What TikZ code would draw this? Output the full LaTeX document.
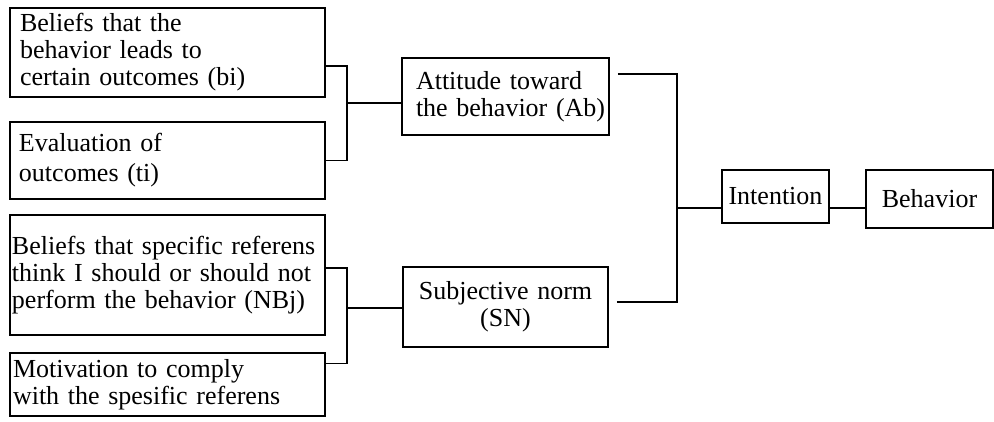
\documentclass[tikz,border=0pt]{standalone}
\usepackage{fontspec}
\setmainfont{Liberation Serif}
\begin{document}
\begin{tikzpicture}[x=1pt, y=-1pt,
    box/.style={draw, line width=1.6pt, inner xsep=6pt, inner ysep=0pt,
      font=\fontsize{26}{27}\selectfont},
    link/.style={line width=1.6pt}]
    \useasboundingbox (0,0) rectangle (994,421);
    % 行为信念与结果评价
    \node[box, minimum width=315pt, minimum height=89pt, inner xsep=10pt, text width=295pt, align=left] (bi) at (167.5,52.5)
      {Beliefs that the\\behavior leads to\\certain outcomes (bi)};
    \node[box, minimum width=315pt, minimum height=77pt, inner xsep=9pt, text width=297pt, align=left] (ti) at (167.5,160.5)
      {Evaluation of\\[3pt]outcomes (ti)};
    % 规范信念与顺从动机
    \node[box, minimum width=315pt, minimum height=120pt, inner xsep=2pt, text width=311pt, align=left] (nbj) at (167.5,275)
      {Beliefs that specific referens\\think I should or should not\\perform the behavior (NBj)};
    \node[box, minimum width=315pt, minimum height=63pt, inner xsep=3pt, text width=309pt, align=left] (mc) at (167.5,384.5)
      {Motivation to comply\\with the spesific referens};
    % 态度与主观规范
    \node[box, minimum width=207pt, minimum height=77pt, text width=207pt, inner xsep=0pt, align=left] (ab) at (505.5,96.5)
      {\hspace*{14pt}Attitude toward\\\hspace*{14pt}the behavior (Ab)};
    \node[box, minimum width=205pt, minimum height=80pt, text width=193pt, align=center] (sn) at (505.5,307)
      {Subjective norm\\(SN)};
    % 意向与行为
    \node[box, minimum width=107pt, minimum height=53pt, inner xsep=2pt] (int) at (775.5,196.5) {Intention};
    \node[box, minimum width=127pt, minimum height=58pt] (beh) at (929.5,199) {Behavior};
    % 左侧括号连线
    \coordinate (j1) at (347,103);
    \coordinate (j2) at (347,308);
    \draw[link] ([yshift=-13.5pt]bi.east) -| (j1) |- (ti.east);
    \draw[link] (j1) -- (j1 -| ab.west);
    \draw[link] ([yshift=7pt]nbj.east) -| (j2) |- ([yshift=21pt]mc.east);
    \draw[link] (j2) -- (j2 -| sn.west);
    % 右侧汇合连线
    \coordinate (j3) at (677,208);
    \draw[link, shorten <=8pt] ([yshift=22.5pt]ab.east) -| (j3);
    \draw[link, shorten <=8pt] ([yshift=5pt]sn.east) -| (j3);
    \draw[link] (j3) -- (j3 -| int.west);
    \draw[link] (j3 -| int.east) -- (j3 -| beh.west);
\end{tikzpicture}
\end{document}
